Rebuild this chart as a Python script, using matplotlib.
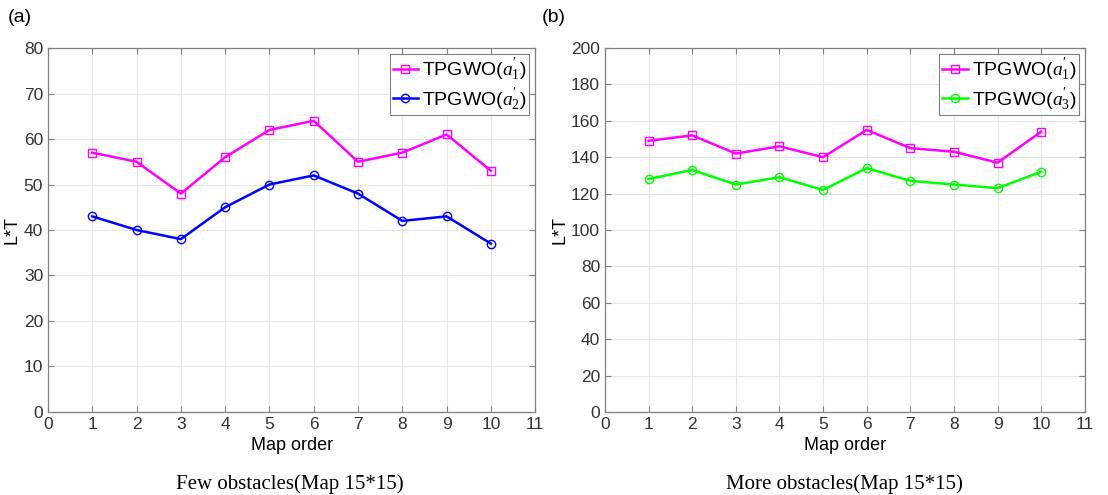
import numpy as np
import matplotlib.pyplot as plt

# data
maps = np.arange(1, 11)
few_a1 = [57, 55, 48, 56, 62, 64, 55, 57, 61, 53]
few_a2 = [43, 40, 38, 45, 50, 52, 48, 42, 43, 37]
more_a1 = [149, 152, 142, 146, 140, 155, 145, 143, 137, 154]
more_a3 = [128, 133, 125, 129, 122, 134, 127, 125, 123, 132]

plt.rcParams['font.family'] = ['Liberation Sans', 'DejaVu Sans']
plt.rcParams['mathtext.fontset'] = 'custom'
plt.rcParams['mathtext.it'] = 'Liberation Serif:italic'
plt.rcParams['mathtext.rm'] = 'Liberation Serif'

fig = plt.figure(figsize=(11.08, 4.95), dpi=100)
ax1 = fig.add_axes([0.0433, 0.1677, 0.4397, 0.7353])
ax2 = fig.add_axes([0.546, 0.1677, 0.433, 0.7353])


def style(ax, ymax, ystep):
    ax.set_xlim(0, 11)
    ax.set_ylim(0, ymax)
    ax.set_xticks(range(0, 12))
    ax.set_yticks(np.arange(0, ymax + 1, ystep))
    ax.grid(True, color='#e6e6e6', linewidth=0.8)
    ax.set_axisbelow(True)
    ax.tick_params(direction='in', top=True, right=True, labelsize=12.5,
                   labelcolor='#333333', color='#808080', length=4)
    for s in ax.spines.values():
        s.set_color('#808080')
        s.set_linewidth(0.9)
    ax.set_xlabel('Map order', fontsize=13, labelpad=4)
    ax.set_ylabel('L*T', fontsize=13, labelpad=2)


ax1.plot(maps, few_a1, color='#ff00ff', marker='s', markersize=5.5, mfc='none',
         linewidth=1.8, label=r"TPGWO($a_1'$)")
ax1.plot(maps, few_a2, color='#0000ff', marker='o', markersize=6, mfc='none',
         linewidth=1.8, label=r"TPGWO($a_2'$)")
style(ax1, 80, 10)

ax2.plot(maps, more_a1, color='#ff00ff', marker='s', markersize=5.5, mfc='none',
         linewidth=1.8, label=r"TPGWO($a_1'$)")
ax2.plot(maps, more_a3, color='#00ff00', marker='o', markersize=6, mfc='none',
         linewidth=1.8, label=r"TPGWO($a_3'$)")
style(ax2, 200, 20)

for ax in (ax1, ax2):
    leg = ax.legend(loc='upper right', fontsize=14, fancybox=False, framealpha=1,
                    handlelength=1.3, handletextpad=0.2, borderpad=0.15,
                    labelspacing=0.15, borderaxespad=0.3)
    leg.get_frame().set_edgecolor('#808080')
    leg.get_frame().set_linewidth(0.8)

fig.text(0.007, 0.955, '(a)', fontsize=14)
fig.text(0.489, 0.955, '(b)', fontsize=14)
fig.text(0.262, 0.012, 'Few obstacles(Map 15*15)', fontsize=15, ha='center',
         family='Liberation Serif')
fig.text(0.762, 0.012, 'More obstacles(Map 15*15)', fontsize=15, ha='center',
         family='Liberation Serif')

fig.savefig('out.png', dpi=100)
